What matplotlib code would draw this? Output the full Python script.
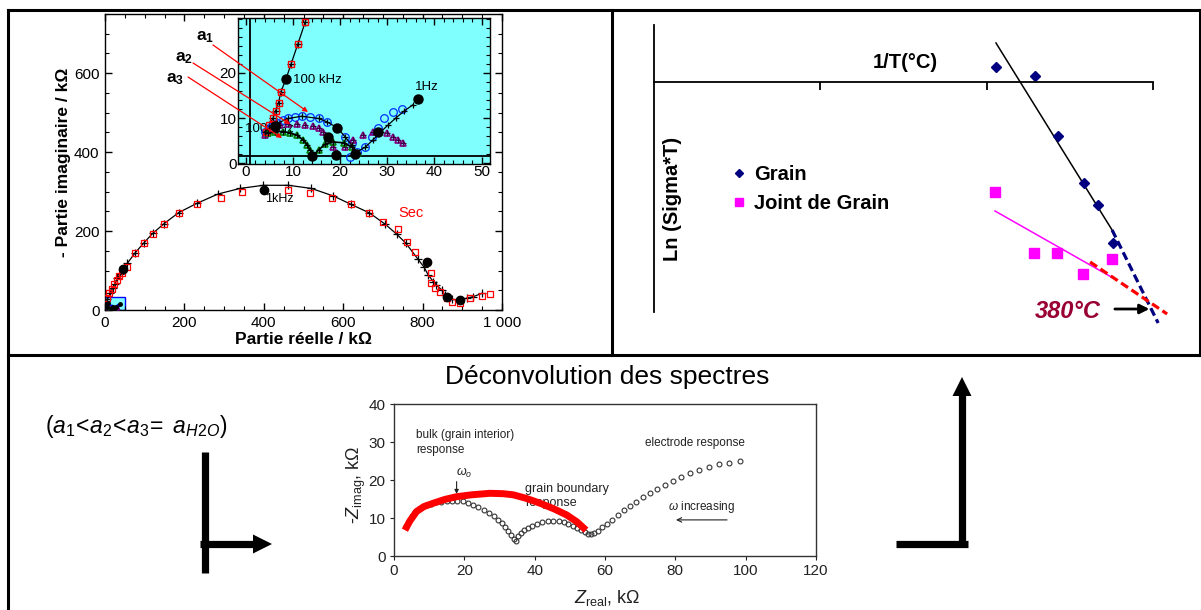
import matplotlib
matplotlib.use("Agg")
import matplotlib.pyplot as plt
from matplotlib.patches import Rectangle, Polygon
from matplotlib.ticker import MultipleLocator

plt.rcParams['font.family'] = ['Liberation Sans', 'DejaVu Sans']
plt.rcParams['mathtext.fontset'] = 'custom'
plt.rcParams['mathtext.rm'] = 'Liberation Sans'
plt.rcParams['mathtext.it'] = 'Liberation Sans:italic'
plt.rcParams['mathtext.bf'] = 'Liberation Sans:bold'

W, H = 1201, 610

# ---------------- data: main Nyquist plot (dry sample "Sec") ----------------
sec_fit_x = [0, 6, 13, 19, 25, 31, 38, 46, 56, 76, 97, 120, 149, 186, 231, 285, 340, 399,
             462, 520, 575, 619, 666, 705, 735, 758, 789, 804, 814, 827, 835, 848, 856, 873,
             894, 911, 928, 949]
sec_fit_y = [0, 27, 42, 55, 67, 80, 91, 103, 118, 145, 169, 194, 219, 247, 270, 294, 308, 316,
             316, 308, 289, 268, 246, 218, 192, 169, 128, 108, 89, 72, 63, 51, 38, 27,
             25, 30, 34, 42]
sec_x = [4, 10, 17, 23, 29, 36, 42, 56, 76, 97, 120, 149, 186, 231, 291, 346, 462, 516, 571,
         620, 664, 699, 737, 760, 781, 810, 821, 821, 831, 844, 861, 873, 894, 919, 949, 971]
sec_y = [31, 42, 54, 65, 76, 86, 94, 110, 144, 169, 193, 218, 247, 268, 285, 298, 305, 296, 283,
         268, 245, 224, 204, 173, 148, 122, 93, 68, 55, 46, 30, 21, 19, 30, 36, 40]
sec_freq_x = [46, 401, 810, 861, 894]
sec_freq_y = [103, 304, 122, 34, 25]

# ---------------- data: inset (humid samples a1, a2, a3) ----------------
hf_x = [4.2, 4.9, 5.7, 6.3, 6.9, 7.4, 8.5, 9.6, 11.0, 12.6, 13.6]
hf_y = [7.0, 8.4, 9.9, 11.6, 13.4, 15.8, 18.7, 22.1, 26.4, 31.4, 34.0]
a1_x = [4.0, 5.2, 6.5, 7.8, 9.0, 10.4, 11.8, 13.6, 15.4, 17.1, 19.3, 21.0, 22.1, 22.4, 23.5,
        25.3, 26.7, 28.1, 29.2, 31.3, 33.1]
a1_y = [7.0, 8.0, 8.8, 9.5, 9.9, 10.3, 10.4, 10.3, 9.9, 9.2, 7.9, 5.9, 1.4, 4.4, 2.5,
        3.6, 5.9, 7.7, 9.9, 11.4, 11.9]
a1_fit_x = [4.0, 6.5, 9.0, 11.8, 15.4, 17.1, 19.3, 21.0, 22.4, 23.5, 25.3, 27.0, 28.6, 30.2,
            31.8, 33.5, 35.4]
a1_fit_y = [7.0, 8.8, 9.9, 10.4, 9.9, 9.2, 7.9, 5.9, 4.0, 2.5, 3.5, 5.2, 6.9, 8.5,
            10.0, 11.5, 12.9]
a2_x = [4.0, 5.5, 7.2, 9.0, 10.8, 12.5, 14.3, 15.5, 16.4, 17.5, 18.5, 19.3, 21.0, 22.8,
        24.9, 27.0, 28.1, 29.9, 31.3, 32.3, 33.4]
a2_y = [6.2, 7.5, 8.4, 8.6, 8.7, 8.5, 8.2, 7.7, 7.0, 5.7, 3.6, 2.2, 3.6, 5.1,
        6.2, 6.8, 6.8, 6.6, 5.9, 5.1, 4.4]
a3_x = [4.7, 6.2, 7.9, 9.4, 10.8, 12.2, 13.0, 13.6, 14.3, 15.4, 16.8, 18.5, 20.7, 22.4, 23.8]
a3_y = [6.6, 7.0, 7.0, 6.7, 6.2, 5.1, 4.0, 2.9, 1.6, 2.9, 4.2, 4.7, 4.5, 3.6, 2.2]
freq_x = [6.2, 8.5, 17.5, 19.3, 19.0, 23.2, 28.1, 36.6, 14.0]
freq_y = [8.2, 18.7, 5.7, 7.9, 1.8, 2.0, 6.8, 14.3, 1.6]

# ---------------- data: Arrhenius sketch ----------------
grain_x = [2.056, 2.291, 2.429, 2.586, 2.67, 2.76]
grain_y = [0.30, 0.12, -1.08, -2.02, -2.46, -3.22]
grain_fit_x = [2.056, 2.754]
grain_fit_y = [0.78, -2.96]
grain_ext_x = [2.754, 3.031]
grain_ext_y = [-2.96, -4.82]
joint_x = [2.05, 2.285, 2.423, 2.58, 2.754]
joint_y = [-2.2, -3.42, -3.42, -3.84, -3.54]
joint_fit_x = [2.05, 2.76]
joint_fit_y = [-2.58, -3.92]
joint_ext_x = [2.622, 3.085]
joint_ext_y = [-3.6, -4.64]
x_ticks_r = [1, 2, 3]

# ---------------- data: deconvolution spectrum ----------------
z_real = [3.5, 4.2, 5, 6, 7, 8, 9.2, 10.5, 12, 13.5, 15, 16.5, 18, 19.5, 21, 22.5, 24, 25.5,
          27, 28.3, 29.5, 30.6, 31.6, 32.5, 33.3, 34, 34.6, 35.2, 36, 37, 38, 39.3, 40.7,
          42.2, 43.8, 45.3, 46.8, 48.2, 49.6, 50.9, 52.1, 53.2, 54.2, 55.1, 56, 57, 58, 59.2,
          60.5, 62, 63.6, 65.3, 67, 68.8, 70.7, 72.7, 74.8, 77, 79.3, 81.7, 84.2, 86.8, 89.5,
          92.3, 95.2, 98.5]
z_imag = [8.0, 9.3, 10.4, 11.5, 12.3, 12.9, 13.4, 13.8, 14.1, 14.3, 14.5, 14.6, 14.6, 14.4,
          14.0, 13.5, 12.9, 12.2, 11.4, 10.5, 9.6, 8.6, 7.6, 6.6, 5.6, 4.6, 4.0, 5.2, 6.0,
          6.8, 7.4, 8.0, 8.5, 8.9, 9.1, 9.2, 9.1, 8.9, 8.5, 8.0, 7.4, 6.8, 6.3, 5.9, 5.7,
          6.0, 6.6, 7.6, 8.5, 9.6, 10.8, 12.0, 13.1, 14.3, 15.4, 16.5, 17.6, 18.7, 19.8,
          20.8, 21.8, 22.7, 23.5, 24.2, 24.6, 25.0]
red_x = [3.1, 4.5, 6.4, 8.5, 11.2, 14.5, 17.8, 22, 27.3, 31, 33.9, 37.5, 41.5, 45.5, 49.1,
         52, 54.6]
red_y = [6.8, 9.2, 11.7, 13.0, 13.9, 14.9, 15.6, 16.1, 16.5, 16.4, 16.1, 15.2, 13.9, 12.4,
         10.8, 9.0, 6.8]

fig = plt.figure(figsize=(W / 100, H / 100), dpi=100)


def px_axes(l, t, r, b, **kw):
    return fig.add_axes([l / W, 1 - b / H, (r - l) / W, (b - t) / H], **kw)


# ======================= main Nyquist plot =======================
ax = px_axes(105, 14, 502, 310)
ax.set_xlim(0, 1000)
ax.set_ylim(0, 750)
ax.add_patch(Rectangle((0, 0), 50, 32, facecolor='#80ffff', edgecolor='#0000ff', lw=1, zorder=1))
ax.plot(sec_fit_x, sec_fit_y, '-', color='black', lw=0.9, marker='+', ms=6, mew=0.9, zorder=3)
ax.plot(sec_x, sec_y, 's', mfc='none', mec='red', ms=4.5, mew=0.9, zorder=4)
ax.plot(sec_freq_x, sec_freq_y, 'o', color='black', ms=6, zorder=5)
ax.plot(a1_x, a1_y, 'o', mfc='none', mec='blue', ms=2, mew=0.6, zorder=3)
ax.plot(a2_x, a2_y, '^', mfc='none', mec='purple', ms=2, mew=0.6, zorder=3)
ax.plot(a3_x, a3_y, '^', mfc='none', mec='green', ms=2, mew=0.6, zorder=3)
ax.plot(freq_x, freq_y, 'o', color='black', ms=2.5, zorder=5)
ax.text(738, 245, 'Sec', color='red', fontsize=10.5, va='center', ha='left')
ax.text(403, 281, '1kHz', color='black', fontsize=9, va='center', ha='left')
ax.set_xticks([0, 200, 400, 600, 800, 1000])
ax.set_xticklabels(['0', '200', '400', '600', '800', '1 000'])
ax.set_yticks([0, 200, 400, 600])
ax.xaxis.set_minor_locator(MultipleLocator(50))
ax.yaxis.set_minor_locator(MultipleLocator(50))
ax.tick_params(which='both', direction='in', top=True, right=True, labelsize=11, pad=4)
ax.tick_params(which='major', length=5, width=1)
ax.tick_params(which='minor', length=3, width=0.8)
for s in ax.spines.values():
    s.set_linewidth(1)
ax.set_xlabel('Partie réelle / kΩ', fontsize=12.5, fontweight='bold', labelpad=2)
ax.set_ylabel('- Partie imaginaire / kΩ', fontsize=12.5, fontweight='bold', labelpad=2)

# ======================= inset =======================
ins = px_axes(238, 18, 490, 164)
ins.set_facecolor('#80ffff')
ins.set_xlim(-1.7, 51.8)
ins.set_ylim(-0.2, 32.2)
ins.axhline(1.5, color='black', lw=1.3, zorder=1)
ins.axvline(0.9, color='black', lw=1.3, zorder=1)
ins.plot(hf_x, hf_y, '-', color='black', lw=0.9, marker='+', ms=6, mew=0.9, zorder=3)
ins.plot(hf_x, hf_y, 's', mfc='none', mec='red', ms=5, mew=1, zorder=4)
ins.plot(a1_x, a1_y, 'o', mfc='none', mec='#0030ff', ms=5.5, mew=0.9, zorder=3)
ins.plot(a1_fit_x, a1_fit_y, '-', color='black', lw=0.9, marker='+', ms=5, mew=0.9, zorder=4)
ins.plot(a2_x, a2_y, '^', mfc='none', mec='#800080', ms=5, mew=1.2, zorder=3)
ins.plot(a2_x, a2_y, '+', color='#400040', ms=5, mew=0.8, zorder=3)
ins.plot(a3_x, a3_y, '^', mfc='none', mec='#008000', ms=5, mew=1.2, zorder=3)
ins.plot(a3_x, a3_y, '-', color='black', lw=1.2, marker='+', ms=5, mew=0.9, zorder=4)
ins.plot(freq_x, freq_y, 'o', color='black', ms=6.5, zorder=6)
ins.text(10.0, 18.5, '100 kHz', fontsize=9.5, va='center', ha='left', zorder=5)
ins.text(35.9, 16.9, '1Hz', fontsize=9.5, va='center', ha='left', zorder=5)
ins.text(-0.3, 7.6, '100 kHz', fontsize=9.5, va='center', ha='left', zorder=2)
ins.set_xticks([0, 10, 20, 30, 40, 50])
ins.set_yticks([0, 10, 20])
ins.xaxis.set_minor_locator(MultipleLocator(2))
ins.yaxis.set_minor_locator(MultipleLocator(2))
ins.tick_params(which='both', direction='in', top=True, right=True, labelsize=11, pad=1)
ins.tick_params(which='major', length=5, width=1)
ins.tick_params(which='minor', length=3, width=0.8)
for s in ins.spines.values():
    s.set_linewidth(1)

# ======================= Arrhenius sketch =======================
axr = px_axes(654, 25, 1153, 312)
axr.set_xlim(0, 3)
axr.set_ylim(-4.6, 1.14)
axr.patch.set_alpha(0)
for k in ['top', 'right']:
    axr.spines[k].set_visible(False)
axr.spines['bottom'].set_position(('data', 0))
axr.spines['bottom'].set_linewidth(1.3)
axr.spines['left'].set_linewidth(1.3)
axr.set_xticks(x_ticks_r)
axr.set_xticklabels([])
axr.set_yticks([])
axr.tick_params(axis='x', direction='out', length=6, width=1.3)
axr.plot(grain_fit_x, grain_fit_y, '-', color='black', lw=1.1, clip_on=False)
axr.plot(grain_ext_x, grain_ext_y, color='#000080', lw=2.3, ls=(0, (2.6, 1.3)), clip_on=False)
axr.plot(joint_fit_x, joint_fit_y, '-', color='#ff00ff', lw=1.1, clip_on=False)
axr.plot(joint_ext_x, joint_ext_y, color='#ff0000', lw=2.3, ls=(0, (2.6, 1.3)), clip_on=False)
hg, = axr.plot(grain_x, grain_y, 'D', color='#000080', ms=5.5, ls='none', clip_on=False,
               label='Grain')
hj, = axr.plot(joint_x, joint_y, 's', color='#ff00ff', ms=6.5, ls='none', clip_on=False,
               label='Joint de Grain')
axr.legend(handles=[hg, hj], loc='center left', bbox_to_anchor=(733 / W, 1 - 189 / H),
           bbox_transform=fig.transFigure, frameon=False, handlelength=0.6,
           handletextpad=0.45, labelspacing=0.5, borderpad=0, borderaxespad=0,
           prop={'weight': 'bold', 'size': 14.5}, markerscale=0.8)
axr.text(2.49, -4.58, '380°C', color='#990033', fontsize=17, fontweight='bold',
         fontstyle='italic', ha='center', va='center', clip_on=False)
axr.annotate('', xy=(2.995, -4.54), xytext=(2.754, -4.54), annotation_clip=False,
             arrowprops=dict(arrowstyle='-|>', color='black', lw=2, mutation_scale=14))

# ======================= deconvolution spectrum =======================
axb = px_axes(394, 404, 816, 556)
axb.set_xlim(0, 120)
axb.set_ylim(0, 40)
axb.plot(z_real, z_imag, 'o', mfc='none', mec='#333333', ms=3.5, mew=0.8, zorder=3)
axb.plot(red_x, red_y, '-', color='#ff0000', lw=5, solid_capstyle='butt', zorder=5)
axb.set_xticks([0, 20, 40, 60, 80, 100, 120])
axb.set_yticks([0, 10, 20, 30, 40])
axb.tick_params(direction='out', length=3, width=0.8, labelsize=11, colors='#222222', pad=3)
for s in axb.spines.values():
    s.set_linewidth(1)
    s.set_color('#333333')
tc = '#222222'
axb.text(6.3, 29.9, 'bulk (grain interior)\nresponse', fontsize=8.5, color=tc,
         va='center', ha='left', linespacing=1.3)
axb.text(17.6, 21.8, r'$\omega_o$', fontsize=9, color=tc, va='center', ha='left')
axb.annotate('', xy=(17.8, 15.6), xytext=(17.8, 20.3),
             arrowprops=dict(arrowstyle='-|>', color=tc, lw=0.8, mutation_scale=6))
axb.text(37.2, 15.8, 'grain boundary\nresponse', fontsize=9, color=tc,
         va='center', ha='left', linespacing=1.25, zorder=2)
axb.text(71.4, 29.8, 'electrode response', fontsize=8.5, color=tc, va='center', ha='left')
axb.text(78.0, 13.0, r'$\omega$ increasing', fontsize=8.5, color=tc, va='center', ha='left')
axb.annotate('', xy=(79.4, 9.5), xytext=(95.5, 9.5),
             arrowprops=dict(arrowstyle='->', color=tc, lw=0.8, mutation_scale=8))

# ======================= overlay: frames, arrows, labels =======================
ov = fig.add_axes([0, 0, 1, 1], zorder=10)
ov.set_xlim(0, W)
ov.set_ylim(H, 0)
ov.axis('off')
ov.patch.set_alpha(0)
lwf = 2.2
ov.plot([8, 1201], [10, 10], color='black', lw=lwf, solid_capstyle='projecting')
ov.plot([8, 8], [10, 612], color='black', lw=lwf)
ov.plot([8, 1201], [355, 355], color='black', lw=lwf)
ov.plot([612, 612], [10, 355], color='black', lw=lwf)
ov.plot([1200, 1200], [10, 355], color='black', lw=lwf)

# red arrows + a labels
for lab, tx, ty, x0, y0, x1, y1 in [
        ('1', 205, 37, 213, 45, 308, 112),
        ('2', 184, 58, 193, 63, 290, 124),
        ('3', 175, 79, 188, 77, 282, 138)]:
    ov.text(tx, ty, r'$\mathbf{a}_\mathbf{' + lab + '}$', fontsize=12.5, ha='center',
            va='center')
    ov.annotate('', xy=(x1, y1), xytext=(x0, y0),
                arrowprops=dict(arrowstyle='-|>', color='red', lw=0.9, mutation_scale=7,
                                shrinkA=0, shrinkB=0))

# Arrhenius labels
ov.text(905, 63, '1/T(°C)', fontsize=14.5, fontweight='bold', ha='center', va='center')
ov.text(672, 199, 'Ln (Sigma*T)', fontsize=14.5, fontweight='bold', ha='center', va='center',
        rotation=90)

# bottom panel texts
ov.text(45, 427, r'$(a_1\!<\!a_2\!<\!a_3\!=\ a_{H2O})$', fontsize=16.5, ha='left', va='center')
ov.text(607, 377, 'Déconvolution des spectres', fontsize=19, ha='center', va='center',
        color='black')
ov.text(356, 485, r'-$Z_{\mathrm{imag}}$, kΩ', fontsize=13, ha='center', va='center',
        rotation=90, color='#222222')
ov.text(607, 608, r'$Z_{\mathrm{real}}$, kΩ', fontsize=13, ha='center', va='bottom',
        color='#222222')

# L-shaped arrows (bars + solid triangular heads)
ov.plot([205, 205], [452, 573], color='black', lw=5.2, solid_capstyle='butt')
ov.plot([200, 254], [544, 544], color='black', lw=5.2, solid_capstyle='butt')
ov.add_patch(Polygon([[253, 534.5], [272, 544], [253, 553.5]], closed=True,
                     facecolor='black', edgecolor='none'))
ov.plot([896, 968], [544, 544], color='black', lw=5.2, solid_capstyle='butt')
ov.plot([962, 962], [544, 395], color='black', lw=5.2, solid_capstyle='butt')
ov.add_patch(Polygon([[952.5, 396], [962, 377], [971.5, 396]], closed=True,
                     facecolor='black', edgecolor='none'))

fig.savefig('out.png', dpi=100)
